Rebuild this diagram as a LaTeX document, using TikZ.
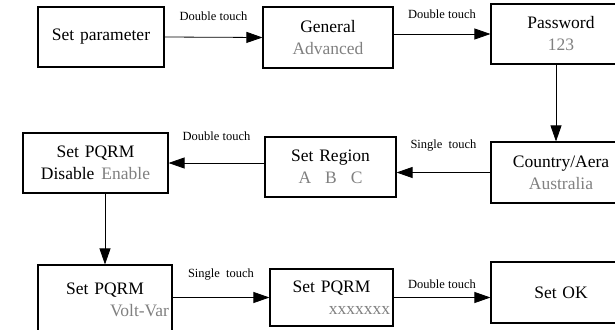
\documentclass[tikz,border=0pt]{standalone}
\usepackage{fontspec}
\setmainfont{Liberation Serif}
\usepackage{tikz}
\usetikzlibrary{arrows.meta, positioning}
\definecolor{subgray}{RGB}{128,128,128}

\begin{document}
\begin{tikzpicture}[x=1pt, y=-1pt,
    box/.style={draw, line width=1.1pt, inner xsep=3pt, inner ysep=0pt,
      align=center, font=\fontsize{17.5}{22}\selectfont},
    lbl/.style={inner sep=1pt, font=\fontsize{12.5}{14}\selectfont},
    flow/.style={-{Triangle[length=16pt, width=11pt]}, line width=0.8pt}]
  \useasboundingbox (0,0) rectangle (615,329);

  \node[box, text width=120pt, minimum height=60pt] (setp) at (101,37) {Set parameter};
  \node[box, text width=124pt, minimum height=61pt] (gen) at (328,37.5)
    {General\\\textcolor{subgray}{Advanced}};
  \node[box, text width=134pt, minimum height=60pt] (pw) at (561,34)
    {Password\\\textcolor{subgray}{123}};
  \node[box, text width=134pt, minimum height=61pt] (cty) at (561,172.5)
    {Country/Aera\\\textcolor{subgray}{Australia}};
  \node[box, text width=125pt, minimum height=60pt] (reg) at (330.5,167)
    {Set Region\\\textcolor{subgray}{A\hspace{0.8em}B\hspace{0.8em}C}};
  \node[box, text width=139pt, minimum height=60pt] (dis) at (95.5,163)
    {Set PQRM\\Disable\hspace{0.4em}\textcolor{subgray}{Enable}};
  \node[box, text width=128pt, minimum height=70pt] (volt) at (105,300)
    {Set PQRM\\\makebox[\linewidth][r]{\textcolor{subgray}{Volt-Var}}};
  \node[box, text width=117pt, minimum height=57pt] (xxx) at (331.5,297.5)
    {Set PQRM\\\makebox[\linewidth][r]{\textcolor{subgray}{xxxxxxx}}};
  \node[box, text width=134pt, minimum height=61pt] (ok) at (561,292.5) {Set OK};

  \draw[flow] (setp.east) -- (gen.west) node[lbl, midway, above=15pt] {Double touch};
  \draw[flow] (gen.east |- pw.west) -- (pw.west) node[lbl, midway, above=13.5pt] {Double touch};
  \draw[flow] ([xshift=-5pt]pw.south) -- ([xshift=-5pt]cty.north);
  \draw[flow] (cty.west) -- (reg.east |- cty.west) node[lbl, midway, above=20pt] {Single\hspace{0.5em}touch};
  \draw[flow] (reg.west |- dis.east) -- (dis.east) node[lbl, midway, above=20.5pt] {Double touch};
  \draw[flow] (dis.south -| volt.north) -- (volt.north);
  \draw[flow] (volt.east |- xxx.west) -- (xxx.west) node[lbl, midway, above=16pt] {Single\hspace{0.5em}touch};
  \draw[flow] (xxx.east) -- (ok.west |- xxx.east) node[lbl, midway, above=7.5pt] {Double touch};
\end{tikzpicture}
\end{document}
